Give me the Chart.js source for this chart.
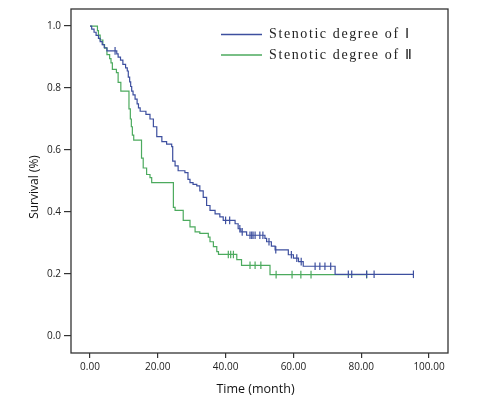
<!DOCTYPE html>
<html>
<head>
<meta charset="utf-8">
<script src="https://cdn.jsdelivr.net/npm/chart.js@4.4.1/dist/chart.umd.min.js"></script>
<style>
  html, body { margin: 0; padding: 0; background: #fff; }
</style>
</head>
<body>
<canvas id="km" width="496" height="420"></canvas>
<script>
// values
const xTicks = [0, 20, 40, 60, 80, 100];
const yTicks = [0, 0.2, 0.4, 0.6, 0.8, 1.0];
const seriesNames = ["Stenotic degree of Ⅰ", "Stenotic degree of Ⅱ"];

// Stenotic degree I
const blueTime = [0, 0.5, 1.2, 1.8, 2.5, 3.0, 3.6, 4.2, 5.0, 7.9, 8.3, 9.0, 9.7, 10.5, 11.0, 11.3, 11.7, 12.0, 12.3, 12.7,
  13.3, 13.9, 14.3, 14.8, 16.5, 17.7, 18.7, 19.7, 21.2, 22.6, 24.1, 24.4, 25.1, 26.0, 28.0, 28.9, 29.5, 30.4, 31.5, 32.4,
  33.4, 34.4, 35.4, 36.9, 38.3, 39.3, 42.8, 43.7, 44.5, 46.2, 51.6, 52.1, 53.5, 54.6, 58.5, 60.0, 61.5, 62.9, 72.3, 95.4];
const blueSurv = [1.0, 0.99, 0.98, 0.97, 0.96, 0.95, 0.94, 0.93, 0.92, 0.91, 0.90, 0.89, 0.876, 0.865, 0.855, 0.835, 0.82, 0.805, 0.79, 0.778,
  0.764, 0.749, 0.736, 0.725, 0.715, 0.70, 0.675, 0.643, 0.627, 0.619, 0.611, 0.564, 0.549, 0.533, 0.527, 0.505, 0.495, 0.489, 0.484, 0.468,
  0.447, 0.421, 0.405, 0.394, 0.384, 0.373, 0.362, 0.346, 0.336, 0.325, 0.315, 0.304, 0.29, 0.278, 0.262, 0.251, 0.240, 0.225, 0.199, 0.199];
const blueCensor = [7.4, 40.0, 41.2, 44.2, 44.9, 47.2, 47.7, 48.1, 48.7, 50.1, 51.0, 52.8, 54.8, 59.4, 61.0, 62.3,
  66.4, 67.8, 69.3, 71.0, 76.2, 77.2, 81.6, 83.8, 95.4];

// Stenotic degree II
const greenTime = [0, 2.2, 2.5, 3.0, 3.8, 4.3, 5.0, 5.8, 6.2, 6.6, 7.8, 8.3, 9.1, 11.5, 11.9, 12.2, 12.5, 12.9, 15.2, 15.7,
  16.7, 17.7, 18.2, 24.6, 25.1, 27.5, 29.5, 31.0, 32.4, 34.9, 35.4, 36.4, 37.4, 37.9, 43.3, 44.7, 53.1, 81.6];
const greenSurv = [1.0, 0.985, 0.971, 0.955, 0.94, 0.929, 0.908, 0.895, 0.881, 0.86, 0.85, 0.818, 0.79, 0.733, 0.70, 0.675, 0.648, 0.632, 0.574, 0.542,
  0.521, 0.511, 0.495, 0.415, 0.405, 0.373, 0.352, 0.336, 0.331, 0.319, 0.304, 0.288, 0.272, 0.263, 0.246, 0.228, 0.198, 0.198];
const greenCensor = [40.8, 41.5, 42.3, 47.2, 48.7, 50.4, 54.9, 59.6, 62.2, 65.2, 81.6];

const blueColor = "#3d4f9f";
const greenColor = "#4caa5e";

function steps(times, surv) {
  return times.map((t, i) => ({ x: t, y: surv[i] }));
}

function survAt(times, surv, t) {
  let s = surv[0];
  for (let i = 0; i < times.length; i++) {
    if (times[i] <= t) s = surv[i];
  }
  return s;
}

function marks(times, surv, censor) {
  return censor.map(t => ({ x: t, y: survAt(times, surv, t) }));
}

// frame, axis titles, legend
const decor = {
  id: "decor",
  afterDraw(chart) {
    const { ctx, chartArea: a } = chart;
    ctx.save();
    ctx.strokeStyle = "#333";
    ctx.lineWidth = 1.3;
    ctx.strokeRect(a.left, a.top, a.right - a.left, a.bottom - a.top);

    ctx.fillStyle = "#111";
    ctx.textAlign = "center";
    ctx.textBaseline = "middle";
    ctx.font = '12.5px "Open Sans"';
    ctx.fillText("Time (month)", (a.left + a.right) / 2 - 4, 389);
    ctx.save();
    ctx.translate(35, (a.top + a.bottom) / 2 + 6);
    ctx.rotate(-Math.PI / 2);
    ctx.font = '12px "Open Sans"';
    ctx.fillText("Survival (%)", 0, 0);
    ctx.restore();

    const rows = [[blueColor, 34.5], [greenColor, 55]];
    ctx.textAlign = "left";
    ctx.font = '14px "Liberation Serif"';
    ctx.letterSpacing = "1.6px";
    rows.forEach(([c, y], i) => {
      ctx.strokeStyle = c;
      ctx.lineWidth = 1.5;
      ctx.beginPath();
      ctx.moveTo(221, y);
      ctx.lineTo(262, y);
      ctx.stroke();
      ctx.fillStyle = "#222";
      ctx.fillText(seriesNames[i], 269, y);
    });
    ctx.restore();
  }
};

const tickFont = { family: "Open Sans", size: 10 };

new Chart(document.getElementById("km"), {
  type: "line",
  data: {
    datasets: [
      {
        label: seriesNames[0],
        data: steps(blueTime, blueSurv),
        borderColor: blueColor,
        borderWidth: 1.2,
        stepped: true,
        pointRadius: 0,
        fill: false,
      },
      {
        label: seriesNames[1],
        data: steps(greenTime, greenSurv),
        borderColor: greenColor,
        borderWidth: 1.2,
        stepped: true,
        pointRadius: 0,
        fill: false,
      },
      {
        label: "censored I",
        data: marks(blueTime, blueSurv, blueCensor),
        showLine: false,
        pointStyle: "line",
        rotation: 90,
        pointRadius: 3.8,
        borderColor: blueColor,
        borderWidth: 1.2,
      },
      {
        label: "censored II",
        data: marks(greenTime, greenSurv, greenCensor),
        showLine: false,
        pointStyle: "line",
        rotation: 90,
        pointRadius: 3.8,
        borderColor: greenColor,
        borderWidth: 1.2,
      },
    ],
  },
  options: {
    responsive: false,
    animation: false,
    layout: { padding: { left: 0, top: 4, right: 48, bottom: 0 } },
    plugins: {
      legend: { display: false },
      tooltip: { enabled: false },
    },
    scales: {
      x: {
        type: "linear",
        min: -5.6,
        max: 105.6,
        afterBuildTicks: (s) => { s.ticks = xTicks.map(v => ({ value: v })); },
        afterFit: (s) => { s.height = 67; },
        ticks: {
          callback: (v) => v.toFixed(2),
          font: tickFont,
          color: "#222",
          padding: 3,
          maxRotation: 0,
          autoSkip: false,
        },
        grid: { drawOnChartArea: false, drawTicks: true, tickLength: 5, color: "#333", lineWidth: 1.2 },
        border: { display: false },
      },
      y: {
        min: -0.055,
        max: 1.055,
        afterBuildTicks: (s) => { s.ticks = yTicks.map(v => ({ value: v })); },
        afterFit: (s) => { s.width = 71; },
        ticks: {
          callback: (v) => v.toFixed(1),
          font: tickFont,
          color: "#222",
          padding: 3,
          autoSkip: false,
        },
        grid: { drawOnChartArea: false, drawTicks: true, tickLength: 7, color: "#333", lineWidth: 1.2 },
        border: { display: false },
      },
    },
  },
  plugins: [decor],
});
</script>
</body>
</html>
